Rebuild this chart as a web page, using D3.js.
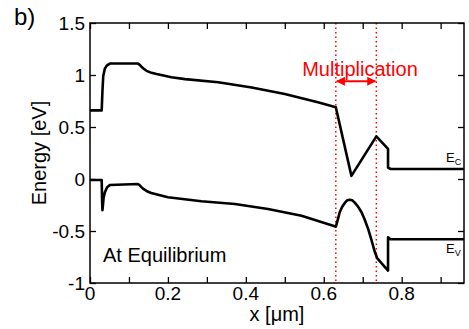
<!DOCTYPE html>
<meta charset="utf-8">
<head>
  <style>
    body { margin: 0; background: #fff; }
    text { font-family: "Liberation Sans", Arial, sans-serif; }
  </style>
  <title>Band diagram</title>
</head>
<svg width="469" height="329"></svg>
<script src="https://cdn.jsdelivr.net/npm/d3@7"></script>
<script>
// conduction band edge
var ecX = [0, 0.030, 0.032, 0.034, 0.038, 0.043, 0.051, 0.123, 0.127, 0.132, 0.138, 0.145, 0.155, 0.171, 0.209, 0.244, 0.329, 0.415, 0.500, 0.585, 0.631, 0.671, 0.735, 0.765, 0.765, 0.772, 0.96];
var ecY = [0.66, 0.66, 0.85, 0.99, 1.06, 1.09, 1.11, 1.11, 1.10, 1.08, 1.06, 1.04, 1.025, 1.01, 0.978, 0.96, 0.93, 0.88, 0.817, 0.737, 0.69, 0.03, 0.41, 0.29, 0.11, 0.096, 0.096];
// valence band edge
var evX = [0, 0.030, 0.031, 0.032, 0.035, 0.038, 0.044, 0.051, 0.123, 0.127, 0.132, 0.138, 0.145, 0.157, 0.200, 0.286, 0.372, 0.457, 0.543, 0.628, 0.631, 0.636, 0.641, 0.647, 0.654, 0.660, 0.667, 0.673, 0.679, 0.688, 0.697, 0.705, 0.714, 0.722, 0.731, 0.737, 0.765, 0.765, 0.771, 0.96];
var evY = [-0.01, -0.01, -0.20, -0.30, -0.18, -0.129, -0.08, -0.058, -0.048, -0.058, -0.078, -0.098, -0.115, -0.135, -0.176, -0.214, -0.24, -0.288, -0.353, -0.455, -0.46, -0.39, -0.32, -0.27, -0.23, -0.205, -0.20, -0.205, -0.225, -0.265, -0.32, -0.39, -0.48, -0.58, -0.70, -0.76, -0.88, -0.56, -0.58, -0.58];

var multX = [0.631, 0.735];
var xTicks = [0, 0.1, 0.2, 0.3, 0.4, 0.5, 0.6, 0.7, 0.8, 0.9];
var xLabels = [0, 0.2, 0.4, 0.6, 0.8];
var yTicks = [-1, -0.5, 0, 0.5, 1, 1.5];

var svg = d3.select("svg");
var pL = 90, pT = 23, pR = 464, pB = 283;

var x = d3.scaleLinear().domain([0, 0.96]).range([pL, pR]);
var y = d3.scaleLinear().domain([-1, 1.5]).range([pB, pT]);

var fmt = function(d) { return String(d); };

// axes with inward ticks
svg.append("g")
   .attr("transform", "translate(0," + pB + ")")
   .call(d3.axisTop(x).tickValues(xTicks).tickSize(6).tickFormat(""))
   .call(function(g) { g.select(".domain").remove(); });
svg.append("g")
   .attr("transform", "translate(0," + pT + ")")
   .call(d3.axisBottom(x).tickValues(xTicks).tickSize(6).tickFormat(""))
   .call(function(g) { g.select(".domain").remove(); });
svg.append("g")
   .attr("transform", "translate(" + pL + ",0)")
   .call(d3.axisRight(y).tickValues(yTicks).tickSize(6).tickFormat(""))
   .call(function(g) { g.select(".domain").remove(); });
svg.append("g")
   .attr("transform", "translate(" + pR + ",0)")
   .call(d3.axisLeft(y).tickValues(yTicks).tickSize(6).tickFormat(""))
   .call(function(g) { g.select(".domain").remove(); });
svg.selectAll(".tick line").attr("stroke", "#000").attr("stroke-width", 1.3);

// tick labels
svg.append("g").selectAll("text")
   .data(xLabels).enter().append("text")
   .attr("x", function(d) { return x(d); })
   .attr("y", pB + 17)
   .attr("text-anchor", "middle")
   .attr("font-size", "19px")
   .text(fmt);
svg.append("g").selectAll("text")
   .data(yTicks).enter().append("text")
   .attr("x", pL - 5)
   .attr("y", function(d) { return y(d) + 7; })
   .attr("text-anchor", "end")
   .attr("font-size", "19px")
   .text(fmt);

// dotted region markers
svg.selectAll(".mult")
   .data(multX).enter().append("line")
   .attr("class", "mult")
   .attr("x1", function(d) { return x(d); })
   .attr("x2", function(d) { return x(d); })
   .attr("y1", pT)
   .attr("y2", pB)
   .attr("stroke", "#ff0000")
   .attr("stroke-width", 1.5)
   .attr("stroke-dasharray", "1.5,3");

// band lines
var line = d3.line()
   .x(function(d) { return x(d[0]); })
   .y(function(d) { return y(d[1]); });

svg.append("path")
   .datum(d3.zip(ecX, ecY))
   .attr("d", line)
   .attr("fill", "none")
   .attr("stroke", "#000")
   .attr("stroke-width", 2.6)
   .attr("stroke-linejoin", "round");
svg.append("path")
   .datum(d3.zip(evX, evY))
   .attr("d", line)
   .attr("fill", "none")
   .attr("stroke", "#000")
   .attr("stroke-width", 2.6)
   .attr("stroke-linejoin", "round");

// frame
svg.append("rect")
   .attr("x", pL).attr("y", pT)
   .attr("width", pR - pL).attr("height", pB - pT)
   .attr("fill", "none")
   .attr("stroke", "#000")
   .attr("stroke-width", 1.5);

// multiplication arrow
var defs = svg.append("defs");
defs.append("marker")
   .attr("id", "ah")
   .attr("viewBox", "0 0 10 10")
   .attr("refX", 9).attr("refY", 5)
   .attr("markerWidth", 5).attr("markerHeight", 5)
   .attr("orient", "auto-start-reverse")
   .append("path")
   .attr("d", "M0,0 L10,5 L0,10 z")
   .attr("fill", "#ff0000");
svg.append("line")
   .attr("x1", x(multX[0]) + 1).attr("x2", x(multX[1]) - 1)
   .attr("y1", y(0.94)).attr("y2", y(0.94))
   .attr("stroke", "#ff0000")
   .attr("stroke-width", 1.8)
   .attr("marker-start", "url(#ah)")
   .attr("marker-end", "url(#ah)");
svg.append("text")
   .attr("x", 360)
   .attr("y", 76)
   .attr("text-anchor", "middle")
   .attr("font-size", "20px")
   .attr("fill", "#ff0000")
   .text("Multiplication");

// band labels
var ec = svg.append("text").attr("x", 446).attr("y", 162).attr("font-size", "13px");
ec.append("tspan").text("E");
ec.append("tspan").attr("font-size", "9px").attr("dy", 3).text("C");
var ev = svg.append("text").attr("x", 446).attr("y", 253).attr("font-size", "13px");
ev.append("tspan").text("E");
ev.append("tspan").attr("font-size", "9px").attr("dy", 3).text("V");

svg.append("text")
   .attr("x", 103).attr("y", 262)
   .attr("font-size", "20px")
   .text("At Equilibrium");

// axis titles
svg.append("text")
   .attr("x", (pL + pR) / 2)
   .attr("y", 321)
   .attr("text-anchor", "middle")
   .attr("font-size", "20px")
   .text("x [μm]");
svg.append("text")
   .attr("transform", "translate(46," + ((pT + pB) / 2) + ") rotate(-90)")
   .attr("text-anchor", "middle")
   .attr("font-size", "20px")
   .text("Energy [eV]");

svg.append("text")
   .attr("x", 14).attr("y", 25)
   .attr("font-size", "24px")
   .text("b)");
</script>
